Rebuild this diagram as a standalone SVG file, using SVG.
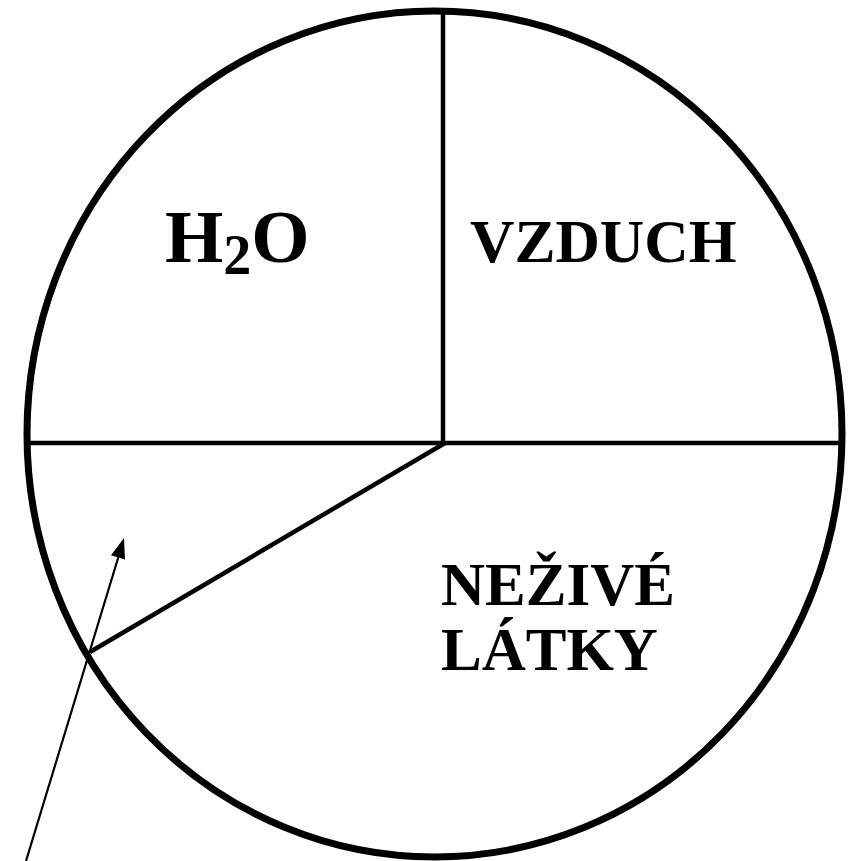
<svg xmlns="http://www.w3.org/2000/svg" width="854" height="861" viewBox="0 0 854 861">
<style>
.t{font-family:"Liberation Serif","Times New Roman",serif;font-weight:bold;fill:#000}
.ln{stroke:#000;stroke-width:4.5;fill:none}
</style>
<rect width="854" height="861" fill="#fff"/>
<g id="pie">
<ellipse cx="434.5" cy="434" rx="407.5" ry="423" fill="none" stroke="#000" stroke-width="7"/>
</g>
<g id="connectors">
<line class="ln" x1="443" y1="12" x2="443" y2="443"/>
<line class="ln" x1="27" y1="443" x2="842" y2="443"/>
<line class="ln" x1="445" y1="443" x2="90" y2="652"/>
<line x1="26" y1="861" x2="119" y2="555" stroke="#000" stroke-width="2.2"/>
<polygon points="124,538 125,559.5 111,555.2" fill="#000"/>
</g>
<g id="h2o"><text class="t" x="165" y="262" font-size="75">H<tspan font-size="56" dy="12">2</tspan><tspan dy="-12">O</tspan></text></g>
<g id="vzduch"><text class="t" x="470" y="262" font-size="61.5">VZDUCH</text></g>
<g id="nezive"><text class="t" x="441" y="605" font-size="61">NEŽIVÉ</text><text class="t" x="441" y="670" font-size="61">LÁTKY</text></g>
</svg>
